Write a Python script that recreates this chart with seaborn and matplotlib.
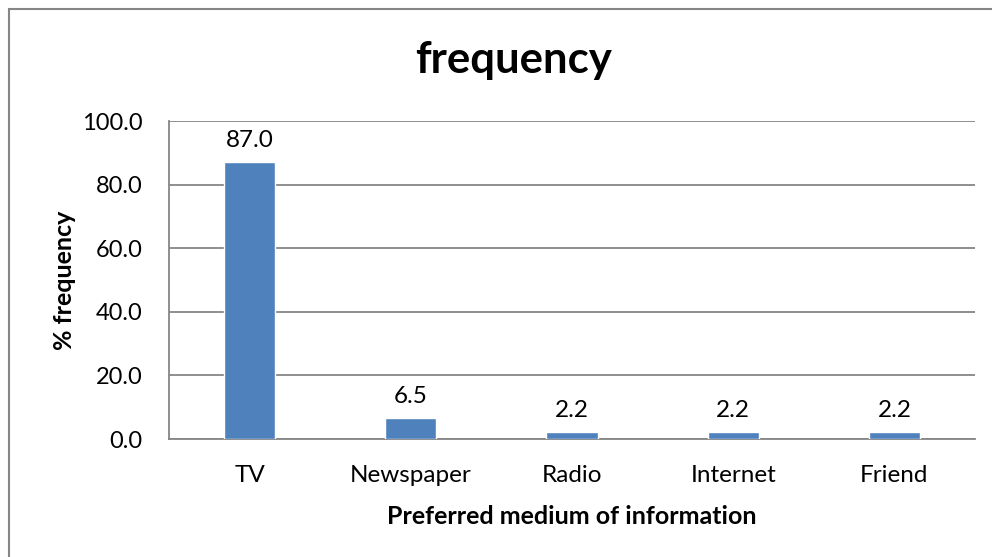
import matplotlib
matplotlib.use("Agg")
import matplotlib.pyplot as plt
import seaborn as sns
import pandas as pd
from matplotlib.patches import Rectangle

categories = ["TV", "Newspaper", "Radio", "Internet", "Friend"]
values = [87.0, 6.5, 2.2, 2.2, 2.2]
yticks = [0, 20, 40, 60, 80, 100]

sns.set_theme(style="white")
plt.rcParams["font.family"] = ["Lato", "DejaVu Sans"]

df = pd.DataFrame({"medium": categories, "pct": values})

W, H = 992, 557
fig = plt.figure(figsize=(W / 100, H / 100), dpi=100)
ax = fig.add_axes([169 / W, 1 - 439 / H, 806 / W, 318 / H])

sns.barplot(data=df, x="medium", y="pct", color="#4F81BD", saturation=1,
            width=0.317, ax=ax, zorder=3)

ax.set_ylim(0, 100)
ax.set_xlim(-0.5, len(categories) - 0.5)
ax.set_yticks(yticks)
ax.set_yticklabels([f"{v:.1f}" for v in yticks])
ax.yaxis.grid(True, color="#868686", linewidth=1.3, zorder=0)
ax.xaxis.grid(False)
ax.set_axisbelow(True)
for s in ["top", "right"]:
    ax.spines[s].set_visible(False)
for s in ["left", "bottom"]:
    ax.spines[s].set_color("#868686")
    ax.spines[s].set_linewidth(1.3)
ax.tick_params(axis="y", length=0, pad=19, labelsize=17, labelcolor="black")
ax.tick_params(axis="x", length=0, pad=18.5, labelsize=17.5, labelcolor="black")

ax.bar_label(ax.containers[0], labels=[f"{v:.1f}" for v in values],
             padding=8, fontsize=17.5, color="black")

ax.set_xlabel("Preferred medium of information", fontsize=18, fontweight="bold",
              labelpad=14, color="black")
ax.set_ylabel("% frequency", fontsize=18, fontweight="bold", labelpad=4,
              color="black")
fig.suptitle("frequency", x=514 / W, y=1 - 60 / H, va="center", fontsize=31.5,
             fontweight="bold", color="black")

fig.patches.append(Rectangle((9 / W, -0.1), 1.2, 1 - 9 / H + 0.1,
                             transform=fig.transFigure, fill=False,
                             edgecolor="#868686", linewidth=1.5))

fig.savefig("out.png", dpi=100)
